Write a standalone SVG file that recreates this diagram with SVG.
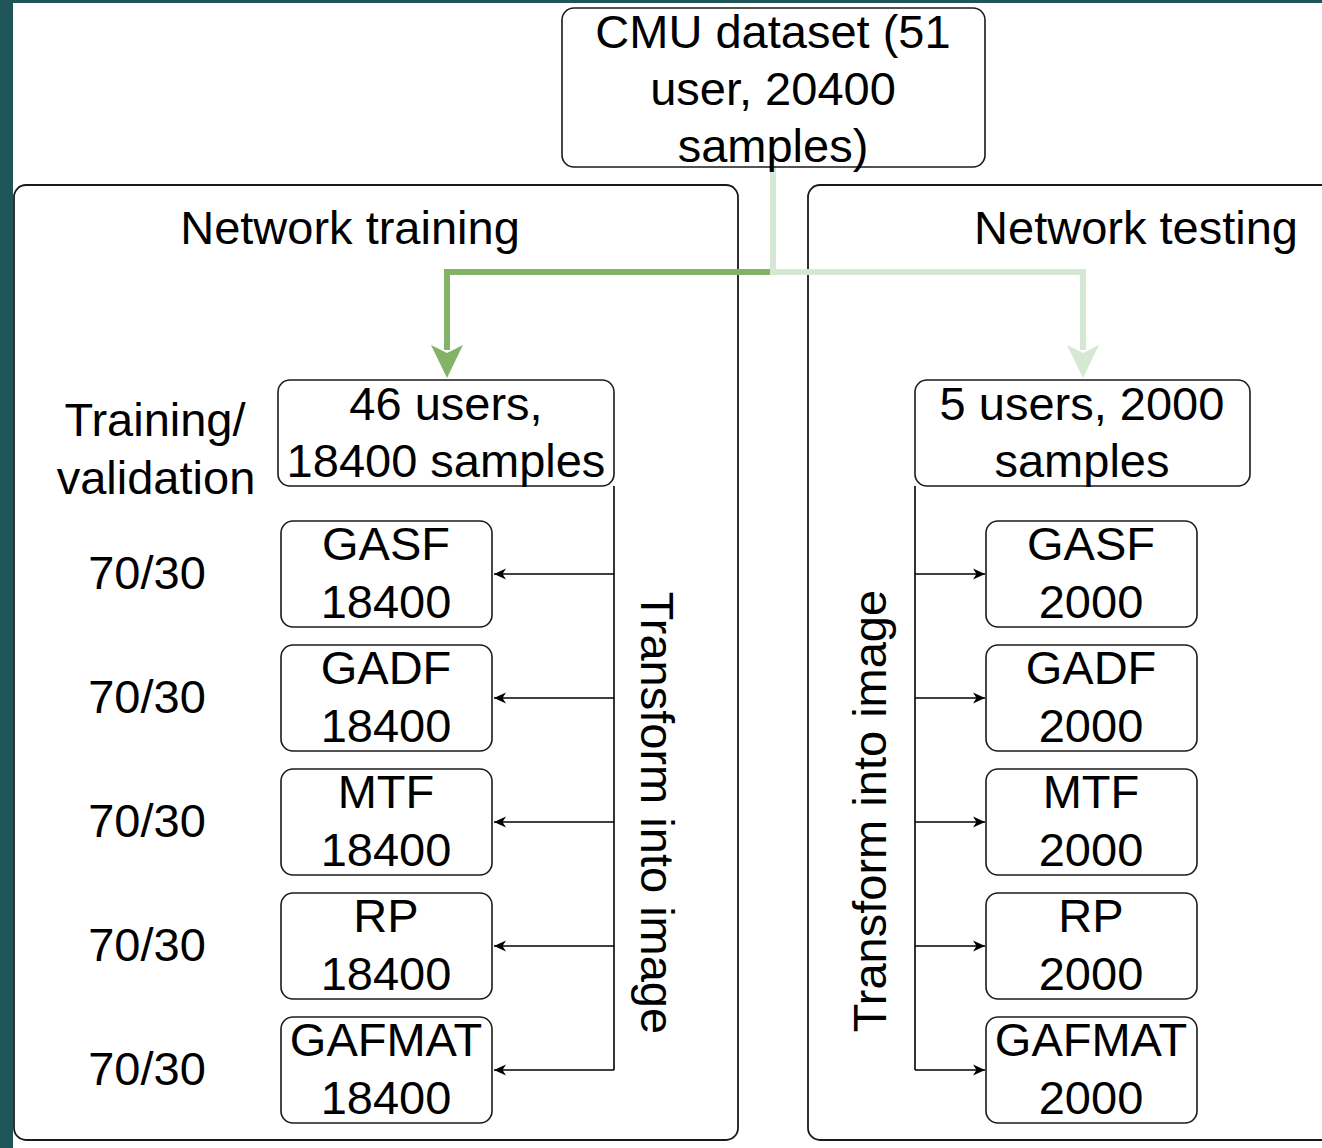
<svg xmlns="http://www.w3.org/2000/svg" width="1322" height="1148" viewBox="0 0 1322 1148">
  <defs>
    <style>
      .lbl { font-family: "Liberation Sans", Arial, Helvetica, sans-serif; font-size: 47px; fill: #000; text-anchor: middle; }
      .box { fill: #fff; stroke: #1a1a1a; stroke-width: 1.6; }
      .frame { fill: none; stroke: #1a1a1a; stroke-width: 1.8; }
      .wire { fill: none; stroke: #000; stroke-width: 1.6; }
      .green-dark { fill: none; stroke: #82b366; stroke-width: 6; }
      .green-light { fill: none; stroke: #d5e8d4; stroke-width: 6; }
    </style>
    <marker id="tip" markerWidth="14" markerHeight="14" refX="12" refY="7" orient="auto" markerUnits="userSpaceOnUse">
      <path d="M0,1.5 L12,7 L0,12.5 L3.5,7 Z" fill="#000"/>
    </marker>
  </defs>

  <!-- page -->
  <rect x="0" y="0" width="1322" height="1148" fill="#1f5458"/>
  <rect x="13" y="3" width="1309" height="1145" fill="#fff"/>

  <!-- section frames -->
  <g id="training-frame">
    <rect class="frame" x="14" y="185" width="724" height="955" rx="12"/>
    <text class="lbl" x="350" y="244">Network training</text>
  </g>
  <g id="testing-frame">
    <rect class="frame" x="808" y="185" width="540" height="955" rx="12"/>
    <text class="lbl" x="1136" y="244">Network testing</text>
  </g>

  <!-- connectors -->
  <g id="connectors">
    <path class="green-dark" d="M773 167 V272 H447 V350"/>
    <path d="M447 378 L431 345 L447 353 L463 345 Z" fill="#82b366"/>
    <path class="green-light" d="M773 167 V272 H1083 V350"/>
    <path d="M1083 378 L1067 345 L1083 353 L1099 345 Z" fill="#d5e8d4"/>

    <path class="wire" d="M614 486 V1070"/>
    <path class="wire" d="M614 574 H494" marker-end="url(#tip)"/>
    <path class="wire" d="M614 698 H494" marker-end="url(#tip)"/>
    <path class="wire" d="M614 822 H494" marker-end="url(#tip)"/>
    <path class="wire" d="M614 946 H494" marker-end="url(#tip)"/>
    <path class="wire" d="M614 1070 H494" marker-end="url(#tip)"/>

    <path class="wire" d="M915 486 V1070"/>
    <path class="wire" d="M915 574 H985" marker-end="url(#tip)"/>
    <path class="wire" d="M915 698 H985" marker-end="url(#tip)"/>
    <path class="wire" d="M915 822 H985" marker-end="url(#tip)"/>
    <path class="wire" d="M915 946 H985" marker-end="url(#tip)"/>
    <path class="wire" d="M915 1070 H985" marker-end="url(#tip)"/>
  </g>

  <!-- source dataset -->
  <g id="dataset">
    <rect class="box" x="562" y="8" width="423" height="159" rx="12"/>
    <text class="lbl" x="773" y="48">CMU dataset (51</text>
    <text class="lbl" x="773" y="105">user, 20400</text>
    <text class="lbl" x="773" y="162">samples)</text>
  </g>

  <!-- training side -->
  <g id="train-split">
    <rect class="box" x="278" y="380" width="336" height="106" rx="12"/>
    <text class="lbl" x="446" y="420">46 users,</text>
    <text class="lbl" x="446" y="477">18400 samples</text>
  </g>
  <g id="train-label">
    <text class="lbl" x="155" y="436">Training/</text>
    <text class="lbl" x="156" y="494">validation</text>
  </g>
  <g id="train-transform">
    <text class="lbl" transform="translate(641 813) rotate(90)">Transform into image</text>
  </g>
  <g id="train-gasf">
    <rect class="box" x="281" y="521" width="211" height="106" rx="12"/>
    <text class="lbl" x="386" y="560">GASF</text>
    <text class="lbl" x="386" y="618">18400</text>
    <text class="lbl" x="147" y="589">70/30</text>
  </g>
  <g id="train-gadf">
    <rect class="box" x="281" y="645" width="211" height="106" rx="12"/>
    <text class="lbl" x="386" y="684">GADF</text>
    <text class="lbl" x="386" y="742">18400</text>
    <text class="lbl" x="147" y="713">70/30</text>
  </g>
  <g id="train-mtf">
    <rect class="box" x="281" y="769" width="211" height="106" rx="12"/>
    <text class="lbl" x="386" y="808">MTF</text>
    <text class="lbl" x="386" y="866">18400</text>
    <text class="lbl" x="147" y="837">70/30</text>
  </g>
  <g id="train-rp">
    <rect class="box" x="281" y="893" width="211" height="106" rx="12"/>
    <text class="lbl" x="386" y="932">RP</text>
    <text class="lbl" x="386" y="990">18400</text>
    <text class="lbl" x="147" y="961">70/30</text>
  </g>
  <g id="train-gafmat">
    <rect class="box" x="281" y="1017" width="211" height="106" rx="12"/>
    <text class="lbl" x="386" y="1056">GAFMAT</text>
    <text class="lbl" x="386" y="1114">18400</text>
    <text class="lbl" x="147" y="1085">70/30</text>
  </g>

  <!-- testing side -->
  <g id="test-split">
    <rect class="box" x="915" y="380" width="335" height="106" rx="12"/>
    <text class="lbl" x="1082" y="420">5 users, 2000</text>
    <text class="lbl" x="1082" y="477">samples</text>
  </g>
  <g id="test-transform">
    <text class="lbl" transform="translate(886 811) rotate(-90)">Transform into image</text>
  </g>
  <g id="test-gasf">
    <rect class="box" x="986" y="521" width="211" height="106" rx="12"/>
    <text class="lbl" x="1091" y="560">GASF</text>
    <text class="lbl" x="1091" y="618">2000</text>
  </g>
  <g id="test-gadf">
    <rect class="box" x="986" y="645" width="211" height="106" rx="12"/>
    <text class="lbl" x="1091" y="684">GADF</text>
    <text class="lbl" x="1091" y="742">2000</text>
  </g>
  <g id="test-mtf">
    <rect class="box" x="986" y="769" width="211" height="106" rx="12"/>
    <text class="lbl" x="1091" y="808">MTF</text>
    <text class="lbl" x="1091" y="866">2000</text>
  </g>
  <g id="test-rp">
    <rect class="box" x="986" y="893" width="211" height="106" rx="12"/>
    <text class="lbl" x="1091" y="932">RP</text>
    <text class="lbl" x="1091" y="990">2000</text>
  </g>
  <g id="test-gafmat">
    <rect class="box" x="986" y="1017" width="211" height="106" rx="12"/>
    <text class="lbl" x="1091" y="1056">GAFMAT</text>
    <text class="lbl" x="1091" y="1114">2000</text>
  </g>
</svg>
